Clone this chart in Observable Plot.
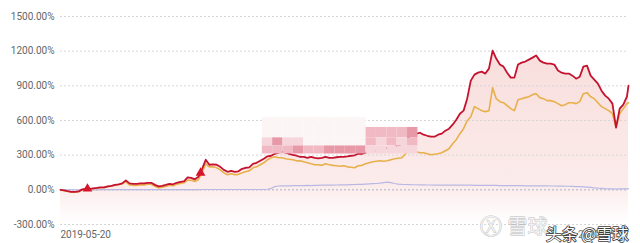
<!DOCTYPE html>
<html><head><meta charset="utf-8">
<script src="https://cdn.jsdelivr.net/npm/d3@7"></script>
<script src="https://cdn.jsdelivr.net/npm/@observablehq/plot@0.6"></script>
<style>
html,body{margin:0;padding:0;background:#fff;}
#chart svg{display:block;}
</style></head><body><div id="chart"></div>
<script>
const dates = [
"2019-05-20","2019-05-27","2019-06-03","2019-06-10","2019-06-17","2019-06-24","2019-07-01","2019-07-08","2019-07-15","2019-07-22","2019-07-29","2019-08-05","2019-08-12","2019-08-19","2019-08-26","2019-09-02","2019-09-09","2019-09-16","2019-09-23","2019-09-30","2019-10-07","2019-10-14","2019-10-21","2019-10-28","2019-11-04","2019-11-11","2019-11-18","2019-11-25","2019-12-02","2019-12-09","2019-12-16","2019-12-23","2019-12-30",
"2020-01-06","2020-01-13","2020-01-20","2020-01-27","2020-02-03","2020-02-10","2020-02-17","2020-02-24","2020-03-02","2020-03-09","2020-03-16","2020-03-23","2020-03-30","2020-04-06","2020-04-13","2020-04-20","2020-04-27","2020-05-04","2020-05-11","2020-05-18","2020-05-25","2020-06-01","2020-06-08","2020-06-15","2020-06-22","2020-06-29","2020-07-06","2020-07-13","2020-07-20","2020-07-27","2020-08-03","2020-08-10","2020-08-17","2020-08-24","2020-08-31","2020-09-07","2020-09-14","2020-09-21","2020-09-28","2020-10-05","2020-10-12","2020-10-19","2020-10-26","2020-11-02","2020-11-09","2020-11-16","2020-11-23","2020-11-30","2020-12-07","2020-12-14","2020-12-21","2020-12-28",
"2021-01-04","2021-01-11","2021-01-18","2021-01-25","2021-02-01","2021-02-08","2021-02-15","2021-02-22","2021-03-01","2021-03-08","2021-03-15","2021-03-22","2021-03-29","2021-04-05","2021-04-12","2021-04-19","2021-04-26","2021-05-03","2021-05-10","2021-05-17","2021-05-24","2021-05-31","2021-06-07","2021-06-14","2021-06-21","2021-06-28","2021-07-05","2021-07-12","2021-07-19","2021-07-26","2021-08-02","2021-08-09","2021-08-16","2021-08-23","2021-08-30","2021-09-06","2021-09-13","2021-09-20","2021-09-27","2021-10-04","2021-10-11","2021-10-18","2021-10-25","2021-11-01","2021-11-08","2021-11-15","2021-11-22","2021-11-29","2021-12-06","2021-12-13","2021-12-20","2021-12-27",
"2022-01-03","2022-01-10","2022-01-17","2022-01-24","2022-01-31","2022-02-07","2022-02-14","2022-02-21","2022-02-28","2022-03-07","2022-03-14","2022-03-21","2022-03-28","2022-04-04","2022-04-11","2022-04-18","2022-04-25","2022-05-02","2022-05-09","2022-05-16","2022-05-19"];

const redValues = [
0,-4,-11,-17,-17,-13,4,9,9,13,
17,22,22,30,35,43,48,56,82,56,
52,52,56,56,61,61,43,30,35,43,
52,48,61,69,74,108,104,91,113,182,
260,217,221,217,199,173,156,165,156,160,
182,191,195,225,234,251,269,290,295,312,
321,330,321,312,303,295,286,286,277,286,
277,273,277,286,277,277,282,286,286,290,
295,299,312,312,321,330,338,338,347,355,
364,364,373,381,399,425,460,477,486,494,
477,468,460,460,477,486,512,529,564,607,
659,685,789,945,997,1014,1023,1006,1049,1205,
1136,1084,1066,1014,971,971,1084,1101,1110,1127,
1144,1162,1118,1101,1092,1092,1084,1032,1014,1006,
1006,988,962,979,1066,1075,988,954,919,858,
815,789,746,538,702,737,806,902];

const orangeValues = [
0,-8,-15,-21,-21,-17,0,5,5,9,
13,18,18,26,31,39,44,52,69,43,
39,39,43,43,48,48,30,17,22,30,
39,35,48,56,61,85,82,72,90,150,
225,199,199,191,173,147,130,139,130,134,
147,156,165,191,199,217,234,260,277,286,
277,277,269,264,260,251,251,243,234,225,
217,217,212,225,217,212,208,204,208,199,
195,191,208,212,225,234,243,247,251,247,
251,260,269,273,277,312,347,338,330,321,
321,312,303,308,312,321,338,355,399,434,
486,529,598,633,720,703,685,677,685,884,
789,763,754,728,703,685,780,789,798,806,
824,832,798,789,772,772,763,746,728,737,
754,754,746,763,832,841,806,789,754,720,
703,685,659,538,659,703,746,754];

const purpleValues = [
0,0,0,0,0,0,0,0,0,0,
0,2,2,2,2,2,2,2,2,2,
2,2,2,2,2,2,2,2,2,2,
2,2,2,2,2,2,2,2,2,3,
3,3,3,3,3,3,3,3,3,3,
3,3,3,3,3,3,3,5,12,28,
33,35,35,34,36,37,36,37,38,37,
38,39,40,40,41,40,42,43,44,43,
45,46,48,48,50,52,54,55,58,62,
66,63,55,50,47,46,45,44,44,43,
43,42,42,41,41,40,40,40,40,41,
41,40,40,40,39,39,39,38,38,38,
38,37,37,37,36,36,36,36,35,35,
35,35,34,34,34,33,33,32,32,31,
31,30,28,27,26,24,21,17,14,12,
10,9,8,6,8,8,9,10];

const yTicks = [-300, 0, 300, 600, 900, 1200, 1500];
const xTickLabels = ["2019-05-20", "2022-05-19"];
const markerDates = ["2019-07-11", "2020-02-14"];
const markerValues = [9, 147];

// pixelated (mosaic) patch of the source image
const mosaicCols = ["2020-06-12","2020-07-02","2020-07-22","2020-08-11","2020-08-31","2020-09-20","2020-10-10","2020-10-30","2020-11-19","2020-12-09","2020-12-29","2021-01-18","2021-02-07","2021-02-27","2021-03-19","2021-04-08"];
const mosaicRows = [625, 540, 450, 380, 310];
const mosaicShades = [
  [1,1,1,1,1,1,1,1,1,1,0,0,0,0,0],
  [1,1,1,1,1,1,1,1,1,1,3,3,3,3,4],
  [2,4,2,2,1,1,1,1,1,1,3,2,3,2,3],
  [3,3,3,4,3,3,4,4,4,4,2,2,2,2,2]
];
const shadeColors = ["none", "#fcf5f5", "#f6d6db", "#f0b9c3", "#e899a8"];

const parse = d3.utcParse("%Y-%m-%d");
const data = dates.map((d, i) => ({date: parse(d), red: redValues[i], orange: orangeValues[i], purple: purpleValues[i]}));
const markers = markerDates.map((d, i) => ({date: parse(d), value: markerValues[i]}));
const mosaic = [];
mosaicShades.forEach((row, r) => row.forEach((s, c) => {
  if (s > 0) mosaic.push({x1: parse(mosaicCols[c]), x2: parse(mosaicCols[c + 1]), y1: mosaicRows[r + 1], y2: mosaicRows[r], fill: shadeColors[s]});
}));

const fmtDate = d3.utcFormat("%Y-%m-%d");

const chart = Plot.plot({
  width: 640,
  height: 243,
  marginLeft: 60,
  marginRight: 12,
  marginTop: 16,
  marginBottom: 19,
  style: {fontFamily: "Roboto, 'Noto Sans', sans-serif", fontSize: "10px", background: "#fff", color: "#666", overflow: "visible"},
  x: {type: "utc", domain: [parse(xTickLabels[0]), parse(xTickLabels[1])]},
  y: {domain: [-300, 1500]},
  color: {type: "identity"},
  marks: [
    Plot.areaY(data, {x: "date", y1: -300, y2: "red", fill: "url(#pinkFill)"}),
    Plot.gridY(yTicks.filter(d => d !== 0), {stroke: "#d6d6d6", strokeOpacity: 1, strokeDasharray: "2,2"}),
    Plot.ruleY([0], {stroke: "#aeb0c8", strokeDasharray: "2,2"}),
    Plot.lineY(data, {x: "date", y: "purple", stroke: "#b9b8e4", strokeWidth: 1.2}),
    Plot.lineY(data, {x: "date", y: "orange", stroke: "#e8b04a", strokeWidth: 1.6}),
    Plot.lineY(data, {x: "date", y: "red", stroke: "#c4122f", strokeWidth: 1.8}),
    Plot.dot(markers, {x: "date", y: "value", symbol: "triangle", r: 3.6, fill: "#d6142a"}),
    Plot.rect(mosaic, {x1: "x1", x2: "x2", y1: "y1", y2: "y2", fill: "fill"}),
    Plot.axisY(yTicks, {tickSize: 0, tickPadding: 6, tickFormat: d => d.toFixed(2) + "%", fill: "#666", label: null}),
    Plot.axisX([parse(xTickLabels[0])], {tickSize: 0, tickPadding: 6, textAnchor: "start", tickFormat: fmtDate, fill: "#666", label: null}),
    Plot.axisX([parse(xTickLabels[1])], {tickSize: 0, tickPadding: 6, textAnchor: "end", tickFormat: fmtDate, fill: "#777", label: null}),
    Plot.text(["Ⓧ"], {frameAnchor: "bottom-right", text: d => d, dx: -138, dy: 9, textAnchor: "middle", lineAnchor: "bottom", fontSize: 22, fill: "#f2f2f2", stroke: "#c0c0c0", strokeWidth: 0.8}),
    Plot.text(["雪球"], {frameAnchor: "bottom-right", text: d => d, dx: -81, dy: 9, textAnchor: "end", lineAnchor: "bottom", fontSize: 20, fontFamily: "Noto Sans CJK SC", fill: "#f2f2f2", stroke: "#bdbdbd", strokeWidth: 0.8}),
    Plot.text(["头条 @雪球"], {frameAnchor: "bottom-right", text: d => d, dx: 0, dy: 15, textAnchor: "end", lineAnchor: "bottom", fontSize: 16, fontFamily: "Noto Sans CJK SC", fill: "#ffffff", stroke: "#3a3a3a", strokeWidth: 1.6})
  ]
});

const defs = document.createElementNS("http://www.w3.org/2000/svg", "defs");
defs.innerHTML = '<linearGradient id="pinkFill" x1="0" y1="0" x2="0" y2="1"><stop offset="0" stop-color="#f8dedc"/><stop offset="0.78" stop-color="#fbeceb"/><stop offset="1" stop-color="#ffffff"/></linearGradient>';
chart.insertBefore(defs, chart.firstChild);
document.getElementById("chart").appendChild(chart);
</script>
</body></html>
